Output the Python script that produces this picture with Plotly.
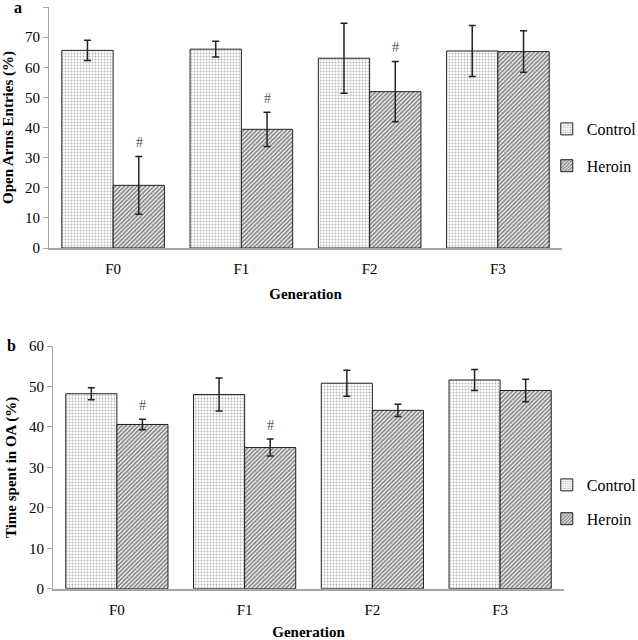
import plotly.graph_objects as go

generations = ["F0", "F1", "F2", "F3"]

# Panel a: Open Arms Entries (%)
a_control = [65.6, 66.0, 63.0, 65.4]
a_control_err = [3.4, 2.6, 11.6, 8.5]
a_heroin = [20.8, 39.4, 51.9, 65.2]
a_heroin_err = [9.6, 5.7, 10.0, 6.9]
a_sig = [True, True, True, False]

# Panel b: Time spent in OA (%)
b_control = [48.2, 48.0, 50.8, 51.6]
b_control_err = [1.5, 4.1, 3.2, 2.6]
b_heroin = [40.6, 34.9, 44.1, 49.0]
b_heroin_err = [1.3, 2.1, 1.5, 2.8]
b_sig = [True, True, False, False]

W, H = 638, 640
SERIF = "Liberation Serif"
AXIS_GRAY = "#a6a6a6"

fig = go.Figure()

ctrl_pattern = dict(shape=".", fgcolor="#707070", bgcolor="white", size=3, solidity=0.33)
her_pattern = dict(shape="/", fgcolor="#111111", bgcolor="white", size=3, solidity=0.62)
err_style = dict(type="data", thickness=1.5, width=3.5, color="#222222")

panels = [
    ("x", "y", "legend", a_control, a_control_err, a_heroin, a_heroin_err, a_sig),
    ("x2", "y2", "legend2", b_control, b_control_err, b_heroin, b_heroin_err, b_sig),
]
for xa, ya, leg, c, ce, h, he, sig in panels:
    fig.add_trace(go.Bar(
        x=generations, y=c, name="Control", xaxis=xa, yaxis=ya, legend=leg,
        legendgroup="c",
        marker=dict(color="white", pattern=ctrl_pattern, line=dict(color="#222222", width=1)),
        error_y=dict(array=ce, **err_style),
    ))
    fig.add_trace(go.Bar(
        x=generations, y=h, name="Heroin", xaxis=xa, yaxis=ya, legend=leg,
        legendgroup="h",
        marker=dict(color="white", pattern=her_pattern, line=dict(color="#222222", width=1)),
        error_y=dict(array=he, **err_style),
    ))
    for g, v, e, s in zip(generations, h, he, sig):
        if s:
            fig.add_annotation(
                x=g, y=v + e, xref=xa, yref=ya, text="#", showarrow=False,
                xshift=26, yshift=14, yanchor="middle",
                font=dict(family=SERIF, size=14, color="#555555"),
            )

tickfont = dict(family=SERIF, size=15, color="black")
titlefont = dict(family=SERIF, size=15, color="black", weight="bold")

def yax(domain, rng, dtick, title):
    return dict(
        domain=domain, range=rng, dtick=dtick, showgrid=False, zeroline=False,
        showline=True, linecolor=AXIS_GRAY, linewidth=1, ticks="outside",
        ticklen=5, tickcolor=AXIS_GRAY, tickfont=tickfont, automargin=False,
        title=dict(text=title, font=titlefont, standoff=8),
    )

def xax(domain, anchor, tstand):
    return dict(
        domain=domain, anchor=anchor, showgrid=False, zeroline=False,
        showline=True, linecolor=AXIS_GRAY, linewidth=2, ticks="", ticklen=0,
        tickfont=tickfont, ticklabelstandoff=6, automargin=False,
        title=dict(text="Generation", font=titlefont, standoff=tstand),
    )

legfont = dict(family=SERIF, size=16, color="black")

fig.update_layout(
    width=W, height=H, margin=dict(l=0, r=0, t=0, b=0, autoexpand=False),
    font=dict(family=SERIF, size=15, color="black"),
    paper_bgcolor="white", plot_bgcolor="white",
    barmode="group", bargap=0.2, bargroupgap=0,
    xaxis=xax([49 / W, 562 / W], "y", 12),
    yaxis=dict(**yax([1 - 248 / H, 1 - 7 / H], [0, 80], 10, "Open Arms Entries (%)"), anchor="x"),
    xaxis2=xax([53 / W, 564 / W], "y2", 12),
    yaxis2=dict(**yax([1 - 588.7 / H, 1 - 346 / H], [0, 60], 10, "Time spent in OA (%)"), anchor="x2"),
    legend=dict(x=0.857, y=1 - 112 / H, xanchor="left", yanchor="top",
                font=legfont, tracegroupgap=13,
                bgcolor="rgba(0,0,0,0)", itemwidth=30),
    legend2=dict(x=0.857, y=1 - 468 / H, xanchor="left", yanchor="top",
                 font=legfont, tracegroupgap=10,
                 bgcolor="rgba(0,0,0,0)", itemwidth=30),
    showlegend=True,
)

fig.add_annotation(x=18 / W, y=1 - 7 / H, xref="paper", yref="paper", text="<b>a</b>",
                   showarrow=False, font=dict(family=SERIF, size=16, color="black"),
                   xanchor="center", yanchor="middle")
fig.add_annotation(x=11 / W, y=1 - 345 / H, xref="paper", yref="paper", text="<b>b</b>",
                   showarrow=False, font=dict(family=SERIF, size=16, color="black"),
                   xanchor="center", yanchor="middle")

fig.write_html("out.html", config={"displayModeBar": False},
               post_script="document.body.style.margin='0';")
